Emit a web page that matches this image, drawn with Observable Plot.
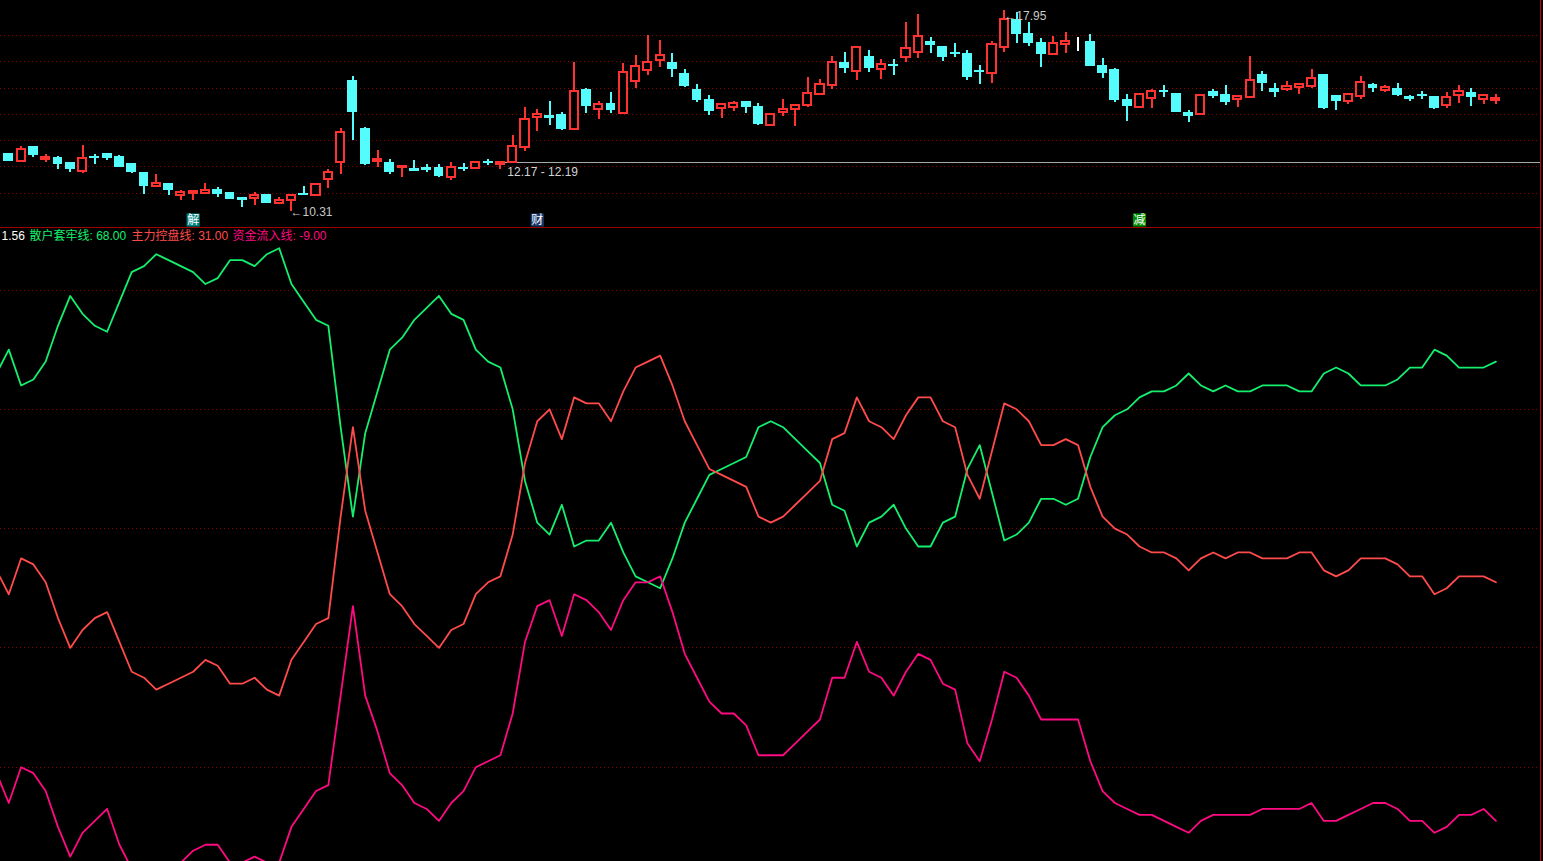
<!DOCTYPE html>
<html><head><meta charset="utf-8">
<script src="https://cdn.jsdelivr.net/npm/d3@7"></script>
<script src="https://cdn.jsdelivr.net/npm/@observablehq/plot@0.6"></script>
<style>
html,body{margin:0;padding:0;background:#000;overflow:hidden;width:1543px;height:861px;}
#wrap{width:1540px;height:861px;border-right:1px solid #c00000;}
#topPanel{height:227px;border-bottom:1px solid #a00000;}
svg{display:block;}
</style></head>
<body><div id="wrap"><div id="topPanel"></div><div id="bottomPanel"></div></div>
<script>
// ---------- price panel data (one candle per trading day) ----------
const opens = [12.47,12.22,12.77,12.29,12.32,12.15,11.82,12.37,12.47,12.37,
12.09,11.78,11.27,11.33,10.90,11.00,11.00,11.11,11.00,10.81,
10.80,10.91,10.62,10.71,10.97,10.92,11.52,12.18,15.25,13.43,
12.19,12.15,11.96,11.91,11.95,11.97,11.58,11.96,11.93,12.19,
12.09,12.15,12.72,13.87,13.95,13.99,13.44,14.93,14.19,14.41,
14.02,15.24,15.66,16.06,15.97,15.55,14.91,14.56,14.21,14.27,
14.45,14.27,13.57,14.06,14.19,14.32,14.74,15.08,15.94,15.62,
16.20,15.69,15.88,16.17,16.36,16.77,16.58,16.35,16.31,15.66,
15.54,16.53,17.60,17.04,16.70,16.29,16.67,16.73,16.76,15.85,
15.70,14.53,14.25,14.60,14.89,14.79,14.06,14.00,14.83,14.74,
14.56,14.65,15.51,14.98,14.93,15.01,15.07,15.48,14.70,14.50,
14.69,15.13,14.89,14.98,14.64,14.74,14.65,14.35,14.72,14.80,
14.55,14.51];
const highs = [12.48,12.77,12.78,12.47,12.40,12.16,12.81,12.47,12.48,12.43,
12.11,11.79,11.72,11.35,11.10,11.10,11.38,11.21,11.03,10.82,
11.03,10.93,10.84,10.95,11.25,11.33,11.89,13.45,15.44,13.50,
12.62,12.27,12.02,12.24,12.08,12.09,12.16,12.12,12.18,12.28,
12.17,13.19,14.27,14.19,14.50,14.07,15.97,14.97,14.49,14.83,
15.92,16.23,17.00,16.81,16.30,15.70,15.12,14.72,14.39,14.49,
14.49,14.40,14.01,14.56,14.33,15.39,15.32,16.20,16.35,16.54,
16.43,16.09,16.09,17.49,17.80,16.92,16.60,16.70,16.43,15.86,
16.77,17.95,17.89,17.49,16.87,16.96,17.10,16.94,17.04,16.11,
15.74,14.74,14.78,14.94,15.08,14.81,14.14,14.71,14.93,15.10,
14.69,16.20,15.63,15.17,15.25,15.16,15.71,15.52,14.72,14.78,
15.44,15.17,15.08,15.17,14.72,14.88,14.68,14.83,15.10,14.99,
14.74,14.74];
const lows = [12.20,12.18,12.37,12.17,11.90,11.78,11.75,12.09,12.24,11.97,
11.75,10.95,11.22,10.91,10.72,10.72,10.95,10.83,10.76,10.46,
10.54,10.63,10.55,10.31,10.92,10.88,11.19,11.70,13.00,12.06,
11.99,11.72,11.61,11.86,11.80,11.61,11.49,11.83,11.89,12.06,
11.89,12.11,12.59,13.36,13.57,13.38,13.43,14.02,13.81,14.02,
14.01,14.98,15.48,15.79,15.41,15.03,14.46,13.95,13.85,14.11,
14.04,13.57,13.56,13.91,13.53,14.25,14.73,14.93,15.56,15.29,
15.60,15.32,15.48,15.98,16.14,16.33,16.01,16.17,15.29,15.12,
15.18,16.36,16.71,16.59,15.79,16.27,16.30,16.40,15.82,15.37,
14.46,13.74,14.24,14.23,14.65,14.07,13.70,13.99,14.61,14.34,
14.27,14.64,14.88,14.65,14.88,14.77,14.99,14.19,14.14,14.38,
14.56,14.84,14.82,14.68,14.50,14.56,14.19,14.23,14.42,14.31,
14.38,14.38];
const closes = [12.24,12.65,12.46,12.34,12.09,11.90,12.31,12.33,12.34,11.98,
11.80,11.26,11.36,11.10,11.02,11.06,11.10,10.97,10.77,10.75,
10.90,10.64,10.72,10.90,10.92,11.32,11.80,13.32,14.08,12.09,
12.27,11.82,12.02,11.86,11.89,11.64,11.97,11.90,12.18,12.14,
12.16,12.78,13.80,13.98,13.85,13.44,14.87,14.31,14.36,14.18,
15.58,15.81,15.97,16.23,15.73,15.07,14.55,14.14,14.38,14.42,
14.27,13.64,14.00,14.17,14.32,14.78,15.12,15.97,15.75,16.53,
15.75,15.88,15.82,16.49,16.96,16.62,16.20,16.28,15.41,15.60,
16.65,17.60,17.05,16.71,16.29,16.68,16.78,16.73,15.83,15.57,
14.56,14.31,14.77,14.87,14.83,14.08,13.93,14.70,14.69,14.46,
14.67,15.27,15.18,14.83,15.06,15.13,15.37,14.25,14.50,14.77,
15.21,14.99,15.02,14.72,14.59,14.68,14.23,14.63,14.87,14.65,
14.70,14.61];
const priceGrid = [11, 12, 13, 14, 15, 16, 17];
const extremes = [{i: 23, price: 10.31, kind: "low"}, {i: 81, price: 17.95, kind: "high"}];
const bandLine = [{from: 40.4, to: 126, price: 12.18, label: "12.17 - 12.19"}];
const markerIdx = [15, 43, 92];
const markerText = ["解", "财", "减"];
const markerBg = ["#007f7f", "#1b3a6b", "#008a00"];

// ---------- indicator panel data (first value is the day before the window) ----------
const green = [66,
70,64,65,68,74,79,76,74,73,78, 83,84,86,85,84,83,81,82,85,85,
84,86,87,81,78,75,74,57,42,56, 63,70,72,75,77,79,76,75,70,68,
67,60,48,41,39,44,37,38,38,41, 36,32,31,30,35,41,45,49,50,51,
52,57,58,57,55,53,51,44,43,37, 41,42,44,40,37,37,41,42,50,54,
46,38,39,41,45,45,44,45,52,57, 59,60,62,63,63,64,66,64,63,64,
63,63,64,64,64,63,63,66,67,66, 64,64,64,65,67,67,70,69,67,67,
67,68];
const red = [33,
29,35,34,31,25,20,23,25,26,21, 16,15,13,14,15,16,18,17,14,14,
15,13,12,18,21,24,25,42,57,43, 36,29,27,24,22,20,23,24,29,31,
32,39,51,58,60,55,62,61,61,58, 63,67,68,69,64,58,54,50,49,48,
47,42,41,42,44,46,48,55,56,62, 58,57,55,59,62,62,58,57,49,45,
53,61,60,58,54,54,55,54,47,42, 40,39,37,36,36,35,33,35,36,35,
36,36,35,35,35,36,36,33,32,33, 35,35,35,34,32,32,29,30,32,32,
32,31];
const pink = [-1,
-6,0,-1,-4,-10,-15,-11,-9,-7,-13, -17,-17,-19,-17,-16,-14,-13,-13,-16,-16,
-15,-16,-16,-10,-7,-4,-3,12,27,12, 6,-1,-3,-6,-7,-9,-6,-4,0,1,
2,9,21,27,28,22,29,28,26,23, 28,31,31,32,26,19,15,11,9,9,
7,2,2,2,4,6,8,15,15,21, 16,15,12,16,19,18,14,13,4,1,
8,16,15,12,8,8,8,8,1,-4, -6,-7,-8,-8,-9,-10,-11,-9,-8,-8,
-8,-8,-7,-7,-7,-7,-6,-9,-9,-8, -7,-6,-6,-7,-9,-9,-11,-10,-8,-8,
-7,-9];
const indGrid = [0, 20, 40, 60, 80];
const seriesNames = ["散户套牢线", "主力控盘线", "资金流入线"];
const seriesColors = ["#14f06e", "#ff4b4b", "#ff0a82"];
const headValue = "1.56";

// ---------- build tables ----------
const RED = "#ff3232", CYAN = "#54fcfc", WHITE = "#ffffff";
const candles = opens.map((o, i) => ({i, o, h: highs[i], l: lows[i], c: closes[i],
  col: closes[i] > o ? RED : closes[i] < o ? CYAN : WHITE}));
const ups = candles.filter(d => d.c > d.o);
const downs = candles.filter(d => d.c <= d.o);
const markers = markerIdx.map((i, k) => ({i, label: markerText[k], bg: markerBg[k]}));
const rows = green.map((g, k) => ({i: k - 1, g, r: red[k], p: pink[k]}));

const W = 1540;
const font = "'Liberation Sans', 'Noto Sans CJK SC', sans-serif";

const topChart = Plot.plot({
  width: W, height: 227, margin: 0,
  x: {domain: [0, 121], range: [8.3, 1495.4], axis: null},
  y: {domain: [11, 17], range: [192.6, 35], axis: null},
  color: {type: "identity"},
  style: {background: "#000", fontFamily: font},
  marks: [
    Plot.ruleY(priceGrid, {stroke: "#8c0000", strokeDasharray: "1,3", shapeRendering: "crispEdges"}),
    Plot.ruleY(bandLine, {y: "price", x1: "from", x2: "to", stroke: "#a8a8a8", clip: true, shapeRendering: "crispEdges"}),
    Plot.text(bandLine, {x: "from", y: "price", text: "label", textAnchor: "start", lineAnchor: "middle", dx: 2, dy: 10, fill: "#d2d2d2", fontSize: 12}),
    Plot.ruleX(candles, {x: "i", y1: "l", y2: "h", stroke: "col", strokeWidth: 2, shapeRendering: "crispEdges"}),
    Plot.rect(downs, {x1: d => d.i - 0.36, x2: d => d.i + 0.36, y1: "o", y2: "c", fill: "col", stroke: "col", strokeWidth: 1, shapeRendering: "crispEdges"}),
    Plot.rect(ups, {x1: d => d.i - 0.33, x2: d => d.i + 0.33, y1: "o", y2: "c", fill: "#000", stroke: "col", strokeWidth: 2, shapeRendering: "crispEdges"}),
    Plot.text(extremes.filter(d => d.kind === "low"), {x: "i", y: "price", text: d => "←" + d.price.toFixed(2), textAnchor: "start", lineAnchor: "middle", dx: -1, dy: 1, fill: "#c8c8c8", fontSize: 12}),
    Plot.text(extremes.filter(d => d.kind === "high"), {x: "i", y: "price", text: d => "←" + d.price.toFixed(2), textAnchor: "start", lineAnchor: "middle", dx: 0, dy: 6, fill: "#c8c8c8", fontSize: 12}),
    Plot.dotX(markers, {x: "i", frameAnchor: "bottom", dy: -7.5, symbol: "square", r: 7.4, fill: "bg"}),
    Plot.textX(markers, {x: "i", frameAnchor: "bottom", lineAnchor: "middle", dy: -7.5, text: "label", fill: "#ffffff", fontSize: 12, fontFamily: "'Noto Sans CJK SC', sans-serif"})
  ]
});
document.getElementById("topPanel").appendChild(topChart);

const last = rows[rows.length - 1];
const lastVals = [last.g, last.r, last.p];
const legend = seriesNames.map((n, k) => n + ": " + lastVals[k].toFixed(2));

const bottomChart = Plot.plot({
  width: W, height: 633, margin: 0,
  x: {domain: [0, 121], range: [8.3, 1495.4], axis: null},
  y: {domain: [0, 80], range: [538.7, 61.5], axis: null},
  style: {background: "#000", fontFamily: font},
  marks: [
    Plot.ruleY(indGrid, {stroke: "#8c0000", strokeDasharray: "1,3", shapeRendering: "crispEdges"}),
    Plot.line(rows, {x: "i", y: "g", stroke: seriesColors[0], strokeWidth: 1.8, clip: true}),
    Plot.line(rows, {x: "i", y: "r", stroke: seriesColors[1], strokeWidth: 1.8, clip: true}),
    Plot.line(rows, {x: "i", y: "p", stroke: seriesColors[2], strokeWidth: 1.8, clip: true}),
    Plot.text([headValue], {text: d => d, frameAnchor: "top-left", textAnchor: "start", lineAnchor: "middle", dx: 1, dy: 8, fill: "#ffffff", fontSize: 12}),
    Plot.text([legend[0]], {text: d => d, frameAnchor: "top-left", textAnchor: "start", lineAnchor: "middle", dx: 29, dy: 8, fill: seriesColors[0], fontSize: 12}),
    Plot.text([legend[1]], {text: d => d, frameAnchor: "top-left", textAnchor: "start", lineAnchor: "middle", dx: 131, dy: 8, fill: seriesColors[1], fontSize: 12}),
    Plot.text([legend[2]], {text: d => d, frameAnchor: "top-left", textAnchor: "start", lineAnchor: "middle", dx: 232, dy: 8, fill: seriesColors[2], fontSize: 12})
  ]
});
document.getElementById("bottomPanel").appendChild(bottomChart);
</script>
</body></html>
